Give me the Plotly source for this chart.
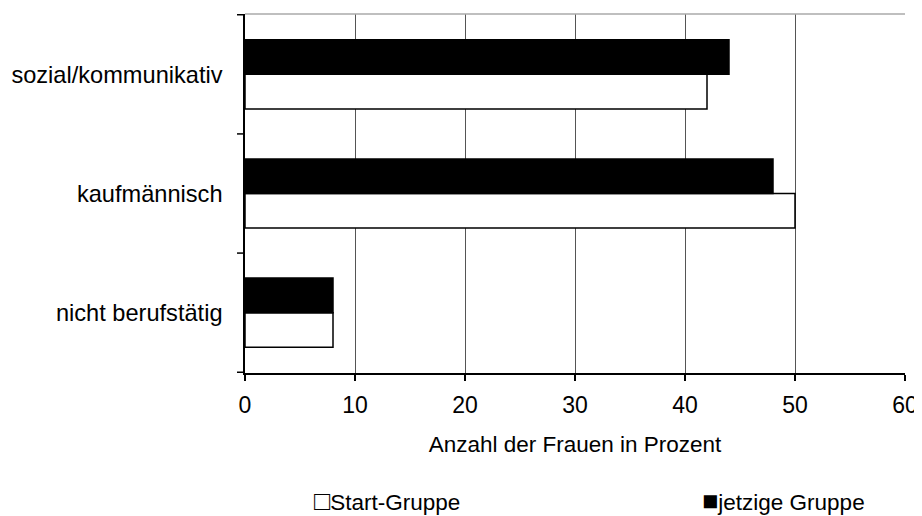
import plotly.graph_objects as go

categories = ["nicht berufstätig", "kaufmännisch", "sozial/kommunikativ"]
start_gruppe = [8, 50, 42]
jetzige_gruppe = [8, 48, 44]
x_ticks = [0, 10, 20, 30, 40, 50, 60]

FONT = "Liberation Sans, Arial, sans-serif"

fig = go.Figure()
fig.add_trace(go.Bar(y=categories, x=start_gruppe, orientation="h", name="Start-Gruppe",
                     marker=dict(color="white", line=dict(color="black", width=1.5))))
fig.add_trace(go.Bar(y=categories, x=jetzige_gruppe, orientation="h", name="jetzige Gruppe",
                     marker=dict(color="black", line=dict(color="black", width=1.5))))

# page body has an 8px margin, so the figure is sized/offset to compensate
fig.update_layout(
    width=914, height=508,
    paper_bgcolor="white", plot_bgcolor="white",
    margin=dict(l=237, r=17, t=6, b=143, autoexpand=False),
    barmode="group", bargap=0.42, bargroupgap=0,
    showlegend=False,
    font=dict(family=FONT, size=23, color="black"),
    xaxis=dict(range=[0, 60], tickvals=x_ticks, showgrid=True, gridcolor="#555555",
               gridwidth=1, showline=True, linecolor="black", linewidth=1.5,
               ticks="outside", ticklen=6, tickcolor="black", tickwidth=1.5,
               tickfont=dict(size=23), automargin=False, zeroline=False,
               ticklabelstandoff=5,
               title=dict(text="Anzahl der Frauen in Prozent", standoff=19,
                          font=dict(size=22.5))),
    yaxis=dict(showline=True, linecolor="black", linewidth=1.5, ticks="",
               showgrid=False, automargin=False, tickfont=dict(size=23.6),
               ticklabelstandoff=16),
)

fig.add_shape(type="line", xref="paper", yref="paper", x0=0, x1=1, y0=1, y1=1,
              line=dict(color="#aaaaaa", width=1.5))
# category separators drawn as outside ticks on the y axis
for yv in [-0.5, 0.5, 1.5, 2.5]:
    fig.add_shape(type="line", xref="paper", yref="y", x0=-0.0121, x1=0, y0=yv, y1=yv,
                  line=dict(color="black", width=1.5))

# legend drawn as text, like the original
sq = '<span style="font-size:27px">%s</span>'
fig.add_annotation(text=sq % "□" + "Start-Gruppe", xref="paper", yref="paper",
                   x=0.1015, y=-0.3565, xanchor="left", yanchor="middle",
                   showarrow=False, font=dict(size=22.5))
fig.add_annotation(text=sq % "■" + "jetzige Gruppe", xref="paper", yref="paper",
                   x=0.942, y=-0.3565, xanchor="right", yanchor="middle",
                   showarrow=False, font=dict(size=22.5))

fig.write_html("out.html")
